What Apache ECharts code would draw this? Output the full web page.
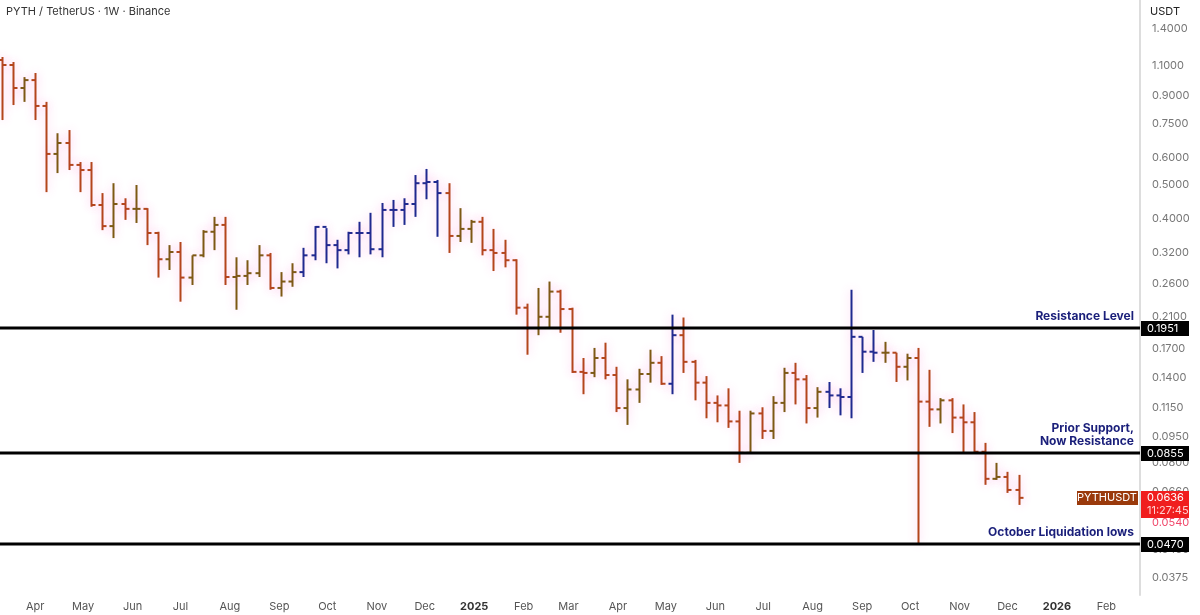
<!DOCTYPE html>
<html>
<head>
<meta charset="utf-8">
<title>PYTH / TetherUS 1W</title>
<script src="https://cdn.jsdelivr.net/npm/echarts@6/dist/echarts.min.js"></script>
<style>
  html, body { margin: 0; padding: 0; background: #fff; }
  #main { width: 1200px; height: 615px; }
</style>
</head>
<body>
<div id="main"></div>
<script type="text/javascript">
// weekly bars, first week starts 2024-03-11
var firstWeek = '2024-03-11';
var opens = [1.143,1.106,0.950,1.001,0.844,0.615,0.661,0.572,0.553,0.439,0.382,0.442,0.428,0.428,0.365,0.307,0.322,0.272,0.315,0.368,0.385,0.273,0.275,0.280,0.315,0.254,0.265,0.282,0.315,0.380,0.337,0.326,0.365,0.365,0.328,0.425,0.425,0.442,0.507,0.511,0.475,0.358,0.375,0.393,0.326,0.320,0.305,0.223,0.195,0.210,0.248,0.221,0.146,0.145,0.160,0.143,0.115,0.130,0.144,0.155,0.135,0.186,0.156,0.136,0.119,0.117,0.1053,0.0856,0.111,0.0989,0.119,0.145,0.139,0.115,0.128,0.125,0.1237,0.184,0.1668,0.1657,0.1657,0.151,0.160,0.120,0.114,0.121,0.108,0.1047,0.0862,0.0721,0.0730,0.0670];
var highs = [1.166,1.128,1.021,1.049,0.867,0.705,0.720,0.583,0.583,0.475,0.507,0.459,0.501,0.430,0.368,0.337,0.344,0.315,0.372,0.406,0.406,0.311,0.305,0.337,0.320,0.282,0.299,0.331,0.382,0.377,0.349,0.368,0.393,0.417,0.445,0.454,0.459,0.535,0.557,0.518,0.507,0.430,0.398,0.406,0.375,0.349,0.307,0.229,0.254,0.265,0.251,0.223,0.160,0.171,0.177,0.151,0.139,0.149,0.169,0.162,0.213,0.209,0.158,0.142,0.125,0.131,0.113,0.113,0.1156,0.1244,0.150,0.155,0.143,0.132,0.1366,0.131,0.251,0.184,0.1925,0.178,0.1657,0.1646,0.171,0.148,0.1228,0.1228,0.1178,0.112,0.0914,0.0801,0.0755,0.0740];
var lows = [0.769,0.849,0.867,0.769,0.478,0.542,0.553,0.478,0.434,0.372,0.353,0.398,0.390,0.337,0.272,0.286,0.232,0.259,0.311,0.326,0.259,0.220,0.259,0.273,0.251,0.240,0.256,0.273,0.305,0.299,0.289,0.317,0.311,0.317,0.311,0.380,0.385,0.406,0.456,0.356,0.320,0.344,0.342,0.315,0.284,0.291,0.213,0.1635,0.186,0.195,0.189,0.145,0.126,0.141,0.139,0.112,0.1029,0.119,0.136,0.134,0.126,0.145,0.121,0.1075,0.1047,0.1009,0.0801,0.0856,0.0938,0.0938,0.112,0.1178,0.1039,0.108,0.115,0.1096,0.1075,0.145,0.156,0.155,0.1366,0.138,0.047,0.1016,0.1039,0.0975,0.0856,0.0856,0.0693,0.0716,0.0657,0.0607];
var closes = [1.106,0.950,1.001,0.844,0.615,0.661,0.572,0.553,0.439,0.382,0.442,0.428,0.428,0.365,0.307,0.322,0.272,0.315,0.368,0.385,0.273,0.275,0.280,0.315,0.254,0.265,0.282,0.315,0.380,0.337,0.326,0.365,0.365,0.328,0.425,0.425,0.442,0.507,0.511,0.475,0.358,0.375,0.393,0.326,0.320,0.305,0.223,0.195,0.210,0.248,0.221,0.146,0.145,0.160,0.143,0.115,0.130,0.144,0.155,0.135,0.186,0.156,0.136,0.119,0.117,0.1053,0.0856,0.111,0.0989,0.119,0.145,0.139,0.115,0.128,0.125,0.1237,0.184,0.1668,0.1657,0.1657,0.151,0.160,0.120,0.114,0.121,0.108,0.1047,0.0862,0.0721,0.0730,0.0670,0.0636];
// bars drawn in blue (uptrend highlight)
var blueBars = [27,28,29,30,31,32,33,34,35,36,37,38,39,60,74,75,76,77,78];
var axisTicks = [1.4,1.1,0.9,0.75,0.6,0.5,0.4,0.32,0.26,0.21,0.17,0.14,0.115,0.095,0.08,0.066,0.054,0.045,0.0375];
var levels = [0.1951, 0.0855, 0.0470];
var levelNotes = ['Resistance Level', 'Prior Support,\nNow Resistance', 'October Liquidation lows'];
var lastPrice = 0.0636;
var countdown = '11:27:45';

var DAY = 86400000;
var t0 = new Date(firstWeek + 'T00:00:00Z').getTime();
var bars = [];
for (var i = 0; i < closes.length; i++) {
    var kind = blueBars.indexOf(i) >= 0 ? 2 : (closes[i] < opens[i] ? 0 : 1);
    bars.push([t0 + i * 7 * DAY, opens[i], highs[i], lows[i], closes[i], kind]);
}
var barColors = ['#b3461c', '#7c5a14', '#1e2a8f'];
var FONT = 'Inter, Roboto, sans-serif';

function renderBar(params, api) {
    var t = api.value(0);
    var pO = api.coord([t, api.value(1)]);
    var pH = api.coord([t, api.value(2)]);
    var pL = api.coord([t, api.value(3)]);
    var pC = api.coord([t, api.value(4)]);
    var x = Math.round(pH[0]) + 0.5;
    var style = {
        stroke: barColors[api.value(5)], lineWidth: 2,
        shadowColor: 'rgba(255,110,210,0.45)', shadowBlur: 10
    };
    return {
        type: 'group',
        children: [
            { type: 'line', shape: { x1: x, y1: pH[1], x2: x, y2: pL[1] }, style: style },
            { type: 'line', shape: { x1: x - 4, y1: pO[1], x2: x, y2: pO[1] }, style: style },
            { type: 'line', shape: { x1: x, y1: pC[1], x2: x + 4, y2: pC[1] }, style: style }
        ]
    };
}

// overlay items: [time, value, kind, index]; kind 0 = axis tick, 1 = last price, 2 = level
var overlay = [];
axisTicks.forEach(function (v, k) { overlay.push([t0, v, 0, k]); });
overlay.push([t0, lastPrice, 1, 0]);
levels.forEach(function (v, k) { overlay.push([t0, v, 2, k]); });

function renderOverlay(params, api) {
    var cs = params.coordSys;
    var right = cs.x + cs.width;
    var v = api.value(1);
    var y = Math.round(api.coord([api.value(0), v])[1]);
    var kind = api.value(2);
    var k = api.value(3);
    if (kind === 0) {
        var c = axisTicks[k] === 0.054 ? '#f0476a' : '#777';
        return { type: 'text', x: right + 12, y: y,
                 style: { text: v.toFixed(4), fill: c, font: '11px ' + FONT, verticalAlign: 'middle' } };
    }
    if (kind === 1) {
        return { type: 'group', children: [
            { type: 'rect', shape: { x: 1077, y: y - 7, width: 61, height: 14 }, style: { fill: '#9a3a0c' } },
            { type: 'text', x: 1107, y: y, style: { text: 'PYTHUSDT', fill: '#fff', font: '11px ' + FONT, align: 'center', verticalAlign: 'middle' } },
            { type: 'rect', shape: { x: right + 1, y: y - 7, width: 48, height: 27 }, style: { fill: '#f01e1e' } },
            { type: 'text', x: right + 7, y: y, style: { text: v.toFixed(4), fill: '#fff', font: '11px ' + FONT, verticalAlign: 'middle' } },
            { type: 'text', x: right + 7, y: y + 13, style: { text: countdown, fill: '#ffd0d0', font: '11px ' + FONT, verticalAlign: 'middle' } }
        ] };
    }
    return { type: 'group', children: [
        { type: 'line', shape: { x1: cs.x, y1: y, x2: right, y2: y }, style: { stroke: '#000', lineWidth: 3 } },
        { type: 'text', x: right - 6, y: y - 5,
          style: { text: levelNotes[k], fill: '#1a1f7a', font: 'bold 12px ' + FONT, align: 'right', verticalAlign: 'bottom', lineHeight: 13 } },
        { type: 'rect', shape: { x: right + 1, y: y - 7, width: 48, height: 15 }, style: { fill: '#000' } },
        { type: 'text', x: right + 7, y: y + 0.5, style: { text: v.toFixed(4), fill: '#fff', font: '11px ' + FONT, verticalAlign: 'middle' } }
    ] };
}

var myChart = echarts.init(document.getElementById('main'));
myChart.setOption({
    animation: false,
    backgroundColor: '#fff',
    textStyle: { fontFamily: FONT },
    grid: { left: 0, right: 60, top: 0, bottom: 20, outerBoundsMode: 'none' },
    graphic: [
        { type: 'text', left: 6, top: 6, style: { text: 'PYTH / TetherUS · 1W · Binance', fill: '#333', fontSize: 11, fontFamily: FONT } },
        { type: 'text', right: 20, top: 6, style: { text: 'USDT', fill: '#222', fontSize: 11, fontFamily: FONT } }
    ],
    xAxis: {
        type: 'time',
        min: t0 - DAY,
        max: new Date('2026-02-22T00:00:00Z').getTime(),
        minInterval: 28 * DAY,
        maxInterval: 31 * DAY,
        axisLine: { show: false },
        axisTick: { show: false },
        splitLine: { show: false },
        axisLabel: {
            color: '#555', fontSize: 11, margin: 6,
            formatter: { year: '{yr|{yyyy}}', month: '{MMM}', day: '' },
            rich: { yr: { fontWeight: 'bold', color: '#333', fontSize: 11 } }
        }
    },
    yAxis: {
        type: 'log',
        logBase: 10,
        position: 'right',
        min: 0.0335,
        max: 1.698,
        axisLine: { show: true, lineStyle: { color: '#ddd', width: 2 } },
        axisTick: { show: false },
        axisLabel: { show: false },
        splitLine: { show: false }
    },
    series: [
        {
            type: 'custom',
            renderItem: renderBar,
            encode: { x: 0, y: [1, 2, 3, 4] },
            data: bars,
            clip: true
        },
        {
            type: 'custom',
            renderItem: renderOverlay,
            encode: { x: 0, y: 1 },
            data: overlay,
            clip: false,
            silent: true,
            z: 3
        }
    ]
});
</script>
</body>
</html>
